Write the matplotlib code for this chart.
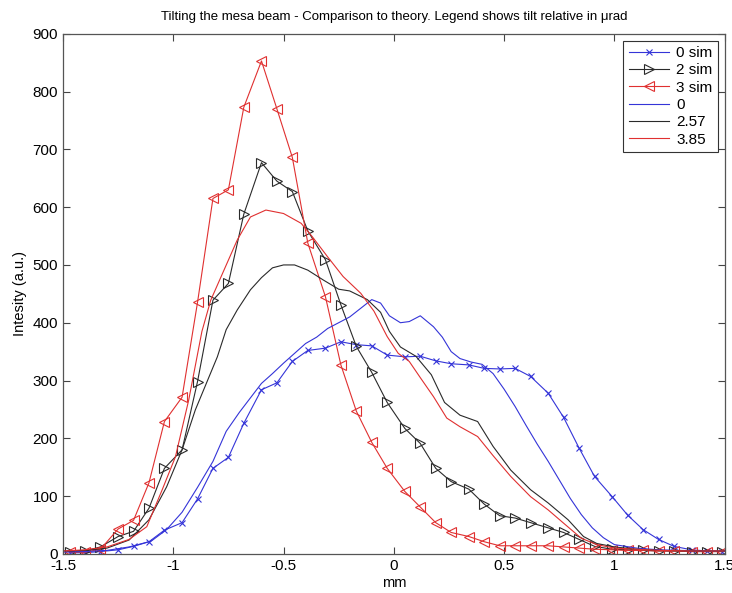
import matplotlib
matplotlib.use('Agg')
import matplotlib.pyplot as plt
from matplotlib.ticker import FormatStrFormatter

plt.rcParams['font.family'] = ['Liberation Sans', 'DejaVu Sans']
plt.rcParams['axes.unicode_minus'] = False

# Simulated points (same x grid for all three sims).
sim_x = [-1.47, -1.40, -1.33, -1.25, -1.18, -1.11, -1.04, -0.96, -0.89, -0.82,
         -0.75, -0.68, -0.60, -0.53, -0.46, -0.39, -0.31, -0.24, -0.17, -0.10,
         -0.03, 0.05, 0.12, 0.19, 0.26, 0.34, 0.41, 0.48, 0.55, 0.62,
         0.70, 0.77, 0.84, 0.91, 0.99, 1.06, 1.13, 1.20, 1.27, 1.35,
         1.42, 1.49]
sim0 = [2, 2, 4, 7, 13, 21, 41, 54, 95, 148,
        167, 226, 284, 296, 333, 352, 356, 367, 362, 360,
        344, 341, 342, 334, 329, 327, 321, 320, 321, 307,
        278, 236, 183, 134, 99, 67, 42, 25, 13, 7,
        5, 4]
sim2 = [4, 5, 12, 30, 39, 79, 148, 180, 298, 439,
        468, 588, 677, 645, 627, 559, 509, 431, 359, 314,
        262, 217, 191, 148, 125, 112, 86, 66, 62, 54,
        45, 37, 25, 13, 8, 7, 6, 5, 5, 4,
        4, 4]
sim3 = [3, 3, 8, 43, 58, 123, 229, 271, 435, 615,
        630, 773, 853, 770, 686, 538, 445, 327, 247, 193,
        148, 108, 81, 54, 37, 30, 21, 14, 14, 14,
        14, 12, 10, 8, 7, 6, 6, 5, 5, 4,
        4, 4]

# Theory curves (tilt 0, 2.57, 3.85 urad).
th0_x = [-1.5, -1.4, -1.3, -1.2, -1.1, -1.03, -0.96, -0.89, -0.82, -0.76,
         -0.7, -0.65, -0.6, -0.55, -0.5, -0.45, -0.4, -0.35, -0.3, -0.25,
         -0.2, -0.15, -0.1, -0.06, -0.02, 0.03, 0.07, 0.12, 0.18, 0.22,
         0.26, 0.3, 0.35, 0.4, 0.45, 0.5, 0.55, 0.6, 0.65, 0.7,
         0.75, 0.8, 0.85, 0.9, 0.95, 1.0, 1.1, 1.2, 1.3, 1.4, 1.5]
th0_y = [3, 4, 6, 12, 22, 42, 72, 115, 160, 212,
         245, 270, 295, 312, 330, 347, 364, 375, 390, 400,
         410, 425, 440, 434, 412, 400, 402, 412, 393, 375,
         350, 338, 332, 328, 312, 285, 255, 222, 190, 160,
         128, 96, 68, 45, 28, 16, 10, 7, 6, 5, 5]

th257_x = [-1.5, -1.4, -1.3, -1.2, -1.11, -1.03, -0.96, -0.9, -0.85, -0.8,
           -0.76, -0.71, -0.65, -0.6, -0.55, -0.5, -0.45, -0.39, -0.32, -0.25,
           -0.2, -0.12, -0.06, -0.02, 0.03, 0.1, 0.17, 0.23, 0.3, 0.38,
           0.45, 0.53, 0.62, 0.7, 0.79, 0.86, 0.92, 1.0, 1.1, 1.2, 1.35, 1.5]
th257_y = [5, 6, 10, 24, 59, 116, 180, 249, 295, 341,
           388, 422, 457, 478, 495, 500, 500, 491, 474, 458,
           455, 440, 418, 385, 358, 342, 310, 262, 240, 229,
           186, 145, 111, 88, 59, 30, 18, 12, 8, 6, 5, 5]

th385_x = [-1.5, -1.4, -1.3, -1.2, -1.12, -1.05, -0.99, -0.93, -0.87, -0.83,
           -0.77, -0.71, -0.65, -0.58, -0.5, -0.42, -0.37, -0.3, -0.23, -0.15,
           -0.09, -0.03, 0.02, 0.07, 0.12, 0.18, 0.24, 0.3, 0.38, 0.45,
           0.53, 0.62, 0.7, 0.77, 0.85, 0.92, 1.0, 1.1, 1.2, 1.35, 1.5]
th385_y = [5, 7, 12, 25, 47, 111, 168, 266, 385, 439,
           491, 543, 583, 595, 589, 572, 549, 514, 480, 451,
           420, 376, 347, 333, 305, 272, 235, 220, 203, 170,
           134, 99, 76, 53, 27, 16, 10, 8, 6, 5, 5]

blue = '#3434d8'
black = '#2a2a2a'
red = '#e03030'

fig = plt.figure(figsize=(7.32, 5.93), dpi=100)
ax = fig.add_axes([0.086, 0.066, 0.904, 0.877])

# Simulations with markers
ax.plot(sim_x, sim0, color=blue, lw=0.8, marker='x', ms=5, mew=0.8, label='0 sim')
ax.plot(sim_x, sim2, color=black, lw=0.8, marker='>', ms=7, mew=0.8, mfc='none', label='2 sim')
ax.plot(sim_x, sim3, color=red, lw=0.8, marker='<', ms=7, mew=0.8, mfc='none', label='3 sim')
# Theory
ax.plot(th0_x, th0_y, color=blue, lw=0.8, label='0')
ax.plot(th257_x, th257_y, color=black, lw=0.8, label='2.57')
ax.plot(th385_x, th385_y, color=red, lw=0.8, label='3.85')

ax.set_xlim(-1.5, 1.5)
ax.set_ylim(0, 900)
ax.set_xticks([-1.5, -1, -0.5, 0, 0.5, 1, 1.5])
ax.set_yticks(range(0, 901, 100))
ax.xaxis.set_major_formatter(FormatStrFormatter('%g'))
ax.tick_params(direction='in', top=True, right=True, length=5, width=0.8,
               labelsize=11, color='#444444')
for s in ax.spines.values():
    s.set_color('#555555')
    s.set_linewidth(0.9)

ax.set_title('Tilting the mesa beam - Comparison to theory. Legend shows tilt relative in \u03bcrad',
             fontsize=9.5, pad=10)
ax.set_xlabel('mm', fontsize=10.5, labelpad=2)
ax.set_ylabel('Intesity (a.u.)', fontsize=10.5, labelpad=4)

leg = ax.legend(loc='upper right', fontsize=11, fancybox=False, framealpha=1,
                edgecolor='#333333', handlelength=2.6, borderpad=0.35,
                labelspacing=0.22, handletextpad=0.5, borderaxespad=0.45)
leg.get_frame().set_linewidth(0.8)

fig.savefig('out.png', dpi=100)
